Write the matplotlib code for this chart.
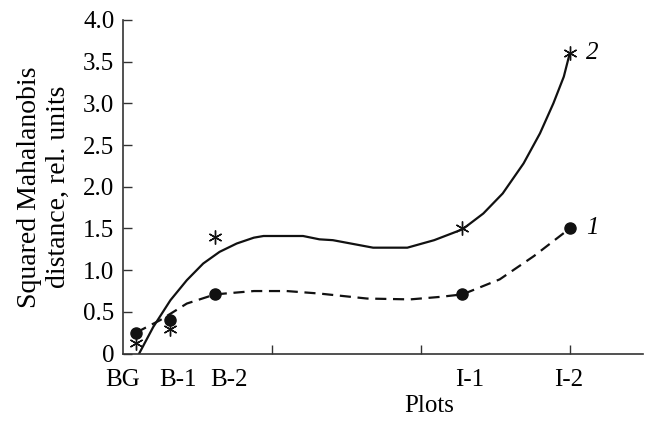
import numpy as np
import matplotlib
matplotlib.use("Agg")
import matplotlib.pyplot as plt

plt.rcParams['font.family'] = ['Liberation Serif', 'DejaVu Serif']

# plots and their position along the axis
plots = ["BG", "B-1", "B-2", "I-1", "I-2"]
plot_x = [0.9, 3.2, 6.2, 22.8, 30.0]

# series 1 (circles) and series 2 (asterisks)
series1 = [0.25, 0.40, 0.71, 0.71, 1.50]
series2 = [0.13, 0.29, 1.40, 1.50, 3.60]

# curves
curve1_x = [0.9, 1.2, 2.5, 4.3, 6.2, 8.8, 11.0, 13.2, 16.4, 19.3, 21.3, 22.8, 25.3, 27.6, 30.0]
curve1_y = [0.25, 0.28, 0.40, 0.60, 0.71, 0.75, 0.75, 0.72, 0.66, 0.65, 0.68, 0.71, 0.89, 1.17, 1.50]
curve2_x = [1.1, 2.05, 3.2, 4.3, 5.4, 6.5, 7.65, 8.8, 9.45, 12.1, 13.2, 14.1, 16.8,
            19.1, 20.9, 22.8, 24.2, 25.5, 26.9, 28.0, 28.9, 29.6, 30.0]
curve2_y = [0.0, 0.32, 0.64, 0.88, 1.08, 1.22, 1.32, 1.39, 1.41, 1.41, 1.37, 1.36, 1.27,
            1.27, 1.36, 1.49, 1.68, 1.92, 2.28, 2.64, 3.00, 3.32, 3.60]

label_pos = [0.0, 3.7, 7.1, 23.3, 29.9]

fig = plt.figure(figsize=(6.46, 4.25), dpi=100)
ax = fig.add_axes([0.19, 0.168, 0.805, 0.785])

ax.plot(curve2_x, curve2_y, color='#111111', lw=1.6, solid_capstyle='round')
ax.plot(curve1_x, curve1_y, color='#111111', lw=1.6, dashes=(5, 3))
ax.plot(plot_x, series2, ls='none', marker=(6, 2, 0), ms=10, mew=1.0,
        color='#111111', clip_on=False)
ax.plot(plot_x, series1, ls='none', marker='o', ms=8, color='#111111', clip_on=False)

ax.text(plot_x[-1] + 1.1, series2[-1], "2", fontsize=18, style='italic', va='center')
ax.text(plot_x[-1] + 1.1, series1[-1], "1", fontsize=18, style='italic', va='center')

ax.set_xlim(0, 34.9)
ax.set_ylim(0, 4.0)
for s in ['top', 'right']:
    ax.spines[s].set_visible(False)
for s in ['left', 'bottom']:
    ax.spines[s].set_color('#333333')
    ax.spines[s].set_linewidth(1.2)

yt = np.arange(0, 4.01, 0.5)
ax.set_yticks(yt)
ax.set_yticklabels(["0"] + ["%.1f" % v for v in yt[1:]])
ax.tick_params(axis='y', direction='in', length=6.5, width=1.0, pad=6,
               labelsize=18, color='#333333')

ax.set_xticks([10, 20, 30])
ax.set_xticklabels([])
ax.set_xticks(label_pos, minor=True)
ax.set_xticklabels(plots, minor=True)
ax.tick_params(axis='x', which='major', direction='in', length=6.5, width=1.0,
               color='#333333')
ax.tick_params(axis='x', which='minor', length=0, pad=11, labelsize=18)

ax.set_ylabel("Squared Mahalanobis\ndistance, rel. units", fontsize=20,
              linespacing=1.2)
ax.yaxis.set_label_coords(-0.10, 0.5)
ax.set_xlabel("Plots", fontsize=18)
ax.xaxis.set_label_coords(0.589, -0.125)

fig.savefig("out.png", dpi=100)
